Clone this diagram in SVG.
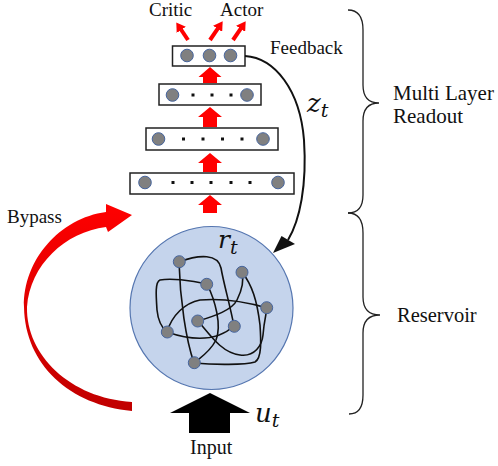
<svg xmlns="http://www.w3.org/2000/svg" width="498" height="466" viewBox="0 0 498 466">
  <style>
    .lbl { font-family: "Liberation Serif", "Times New Roman", serif; fill: #111; }
    .math { font-family: "DejaVu Serif", "Liberation Serif", serif; font-style: italic; fill: #111; }
    .box { fill: #fff; stroke: #222; stroke-width: 1.5; }
    .unit { fill: #808080; stroke: #46659e; stroke-width: 1; }
    .dot { fill: #111; }
    .up { fill: #ff0000; }
    .wire { fill: none; stroke: #111; stroke-width: 1.6; }
    .brace { fill: none; stroke: #222; stroke-width: 1.3; }
    .out { stroke: #ff0000; stroke-width: 4; marker-end: url(#redHead); }
  </style>
  <defs>
    <marker id="redHead" viewBox="0 0 9 11" markerWidth="9" markerHeight="11" refX="0.5" refY="5.5" orient="auto" markerUnits="userSpaceOnUse">
      <path d="M0,0 L9,5.5 L0,11 z" fill="#ff0000"/>
    </marker>
    <linearGradient id="bypassGrad" x1="0" y1="0" x2="0" y2="1">
      <stop offset="0" stop-color="#ff0000"/>
      <stop offset="1" stop-color="#c00000"/>
    </linearGradient>
  </defs>

  <rect width="498" height="466" fill="#fff"/>

  <!-- Readout layers -->
  <g id="layer-out">
    <rect class="box" x="172.5" y="46" width="72.5" height="20"/>
    <circle class="unit" cx="187" cy="55.5" r="6.3"/>
    <circle class="unit" cx="209.5" cy="55.5" r="6.3"/>
    <circle class="unit" cx="230.5" cy="55.5" r="6.3"/>
  </g>
  <g id="layer-3">
    <rect class="box" x="159" y="84" width="102" height="21"/>
    <circle class="unit" cx="172.5" cy="95" r="6.3"/>
    <circle class="unit" cx="247" cy="95" r="6.3"/>
    <rect class="dot" x="191.5" y="93.5" width="3" height="3"/>
    <rect class="dot" x="210.5" y="93.5" width="3" height="3"/>
    <rect class="dot" x="229.5" y="93.5" width="3" height="3"/>
  </g>
  <g id="layer-2">
    <rect class="box" x="146" y="128" width="132" height="22"/>
    <circle class="unit" cx="158.5" cy="139" r="6.3"/>
    <circle class="unit" cx="263" cy="139" r="6.3"/>
    <rect class="dot" x="182" y="137.5" width="3" height="3"/>
    <rect class="dot" x="201.5" y="137.5" width="3" height="3"/>
    <rect class="dot" x="221" y="137.5" width="3" height="3"/>
    <rect class="dot" x="240.5" y="137.5" width="3" height="3"/>
  </g>
  <g id="layer-1">
    <rect class="box" x="130" y="173" width="164" height="21"/>
    <circle class="unit" cx="145" cy="182.5" r="6.3"/>
    <circle class="unit" cx="278" cy="182.5" r="6.3"/>
    <rect class="dot" x="171.5" y="181" width="3" height="3"/>
    <rect class="dot" x="190.5" y="181" width="3" height="3"/>
    <rect class="dot" x="209.5" y="181" width="3" height="3"/>
    <rect class="dot" x="229.5" y="181" width="3" height="3"/>
    <rect class="dot" x="248.5" y="181" width="3" height="3"/>
  </g>

  <!-- Reservoir -->
  <g id="reservoir">
    <circle cx="211.5" cy="308" r="81.5" fill="#c5d4ec" stroke="#5576b0" stroke-width="1.2"/>
    <g class="wires">
      <path class="wire" d="M179,262 C200,254 218,254 221,268 C224,285 230,305 234,326"/>
      <path class="wire" d="M179,262 C180,300 186,340 194,363"/>
      <path class="wire" d="M207,284 C190,280 170,278 160,280 C155,282 156,295 157,310 C158,320 162,328 167,332"/>
      <path class="wire" d="M207,284 C215,300 222,325 216,340 C210,352 200,358 194,363"/>
      <path class="wire" d="M167,332 C190,340 215,343 234,326"/>
      <path class="wire" d="M167,332 C172,315 185,303 200,300 C225,298 250,303 267,308"/>
      <path class="wire" d="M198,321 C215,316 232,310 237,300 C242,290 244,280 242,272"/>
      <path class="wire" d="M198,321 C210,335 222,353 240,355 C255,357 262,345 263,335 C264,322 266,315 267,308"/>
      <path class="wire" d="M194,363 C215,365 245,365 255,362 C262,358 261,340 260,325 C257,300 252,285 242,272"/>
    </g>
    <circle class="unit" cx="179.3" cy="261.7" r="6"/>
    <circle class="unit" cx="206.7" cy="284.3" r="6"/>
    <circle class="unit" cx="242" cy="272.3" r="6"/>
    <circle class="unit" cx="266.7" cy="307.7" r="6"/>
    <circle class="unit" cx="197.7" cy="321" r="6"/>
    <circle class="unit" cx="234.3" cy="326.3" r="6"/>
    <circle class="unit" cx="167.3" cy="332" r="6"/>
    <circle class="unit" cx="194.3" cy="362.7" r="6"/>
    <text class="math" x="218" y="248" font-size="25">r<tspan font-size="19" dy="6">t</tspan></text>
  </g>

  <!-- Connectors -->
  <g id="connectors">
    <!-- forward flow between layers -->
    <path class="up" d="M210,67 L221.5,77 L217,77 L217,83 L203,83 L203,77 L198.5,77 Z"/>
    <path class="up" d="M210,107 L222,117 L217,117 L217,127 L203,127 L203,117 L198,117 Z"/>
    <path class="up" d="M210,153 L222,163 L217,163 L217,172 L203,172 L203,163 L198,163 Z"/>
    <path class="up" d="M210,195 L222,205 L217,205 L217,213 L203,213 L203,205 L198,205 Z"/>
    <!-- outputs -->
    <line class="out" x1="188" y1="40" x2="181" y2="29.5"/>
    <line class="out" x1="210" y1="40" x2="217.9" y2="28.4"/>
    <line class="out" x1="233" y1="40" x2="240.9" y2="28.4"/>
    <!-- feedback z_t -->
    <path d="M245,56 C275,58 300,90 304,140 C307,185 300,220 288,240" fill="none" stroke="#111" stroke-width="2"/>
    <polygon points="273,253 281.5,236 295,244" fill="#111"/>
    <!-- bypass -->
    <path d="M132,411 C70,405 25,365 24,307 C23,260 60,218 106,212 L106,204 L132,215 L108,232 L106,227 C65,232 30,265 27,307 C26,355 70,398 132,402 Z" fill="url(#bypassGrad)"/>
    <!-- input -->
    <path d="M210,393 L250,413 L230,413 L230,433 L189,433 L189,413 L170,413 Z" fill="#000"/>
  </g>

  <!-- Braces -->
  <g id="braces">
    <path class="brace" d="M348,10 Q363,10 363,30 L363,85 Q363,103 379,103 Q363,103 363,121 L363,195 Q363,213 348,213"/>
    <path class="brace" d="M348,213 Q363,213 363,233 L363,297 Q363,315 380,315 Q363,315 363,333 L363,395 Q363,414 349,414"/>
  </g>

  <!-- Labels -->
  <g id="labels">
    <text class="lbl" x="149" y="16" font-size="19">Critic</text>
    <text class="lbl" x="220" y="16" font-size="19">Actor</text>
    <text class="lbl" x="270" y="54" font-size="19">Feedback</text>
    <text class="math" x="307" y="112" font-size="26">z<tspan font-size="19" dy="5">t</tspan></text>
    <text class="lbl" x="393" y="100" font-size="21">Multi Layer</text>
    <text class="lbl" x="393" y="123" font-size="21">Readout</text>
    <text class="lbl" x="397" y="322" font-size="20.5">Reservoir</text>
    <text class="lbl" x="7" y="223" font-size="19">Bypass</text>
    <text class="math" x="255" y="422" font-size="26">u<tspan font-size="19" dy="5">t</tspan></text>
    <text class="lbl" x="190" y="454" font-size="20">Input</text>
  </g>
</svg>
